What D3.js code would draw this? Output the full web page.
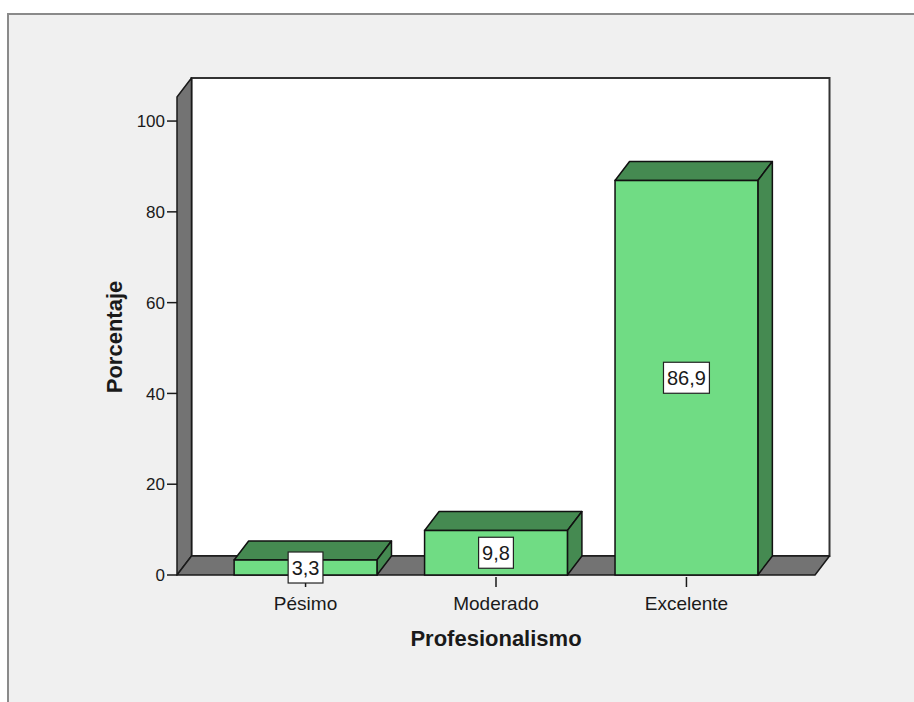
<!DOCTYPE html>
<html>
<head>
<meta charset="utf-8">
<script src="https://cdn.jsdelivr.net/npm/d3@7"></script>
<style>
  html, body { margin: 0; padding: 0; background: #ffffff; }
  svg { display: block; }
  text { font-family: "Liberation Sans", Arial, sans-serif; fill: #1a1a1a; }
</style>
</head>
<body>
<svg id="chart" width="914" height="702"></svg>
<script>
// ---- data ----
const categories = ["Pésimo", "Moderado", "Excelente"];
const values = [3.3, 9.8, 86.9];
const valueLabels = ["3,3", "9,8", "86,9"];
const yTicks = [0, 20, 40, 60, 80, 100];
const yTickLabels = ["0", "20", "40", "60", "80", "100"];
const xTitle = "Profesionalismo";
const yTitle = "Porcentaje";
const yMax = 105.3;

// ---- layout ----
const svg = d3.select("#chart");
const frontLeft = 177, frontRight = 815, floorY = 575, topY = 97;
const dx = 14.5, dy = -19;

const x = d3.scaleBand().domain(categories).range([frontLeft, frontRight])
  .paddingInner(0.25).paddingOuter(0.3);
const y = d3.scaleLinear().domain([0, yMax]).range([floorY, topY]);

// outer frame
svg.append("rect").attr("x", 8).attr("y", 14).attr("width", 920).attr("height", 700)
  .attr("fill", "#f0f0f0").attr("stroke", "#8a8a8a").attr("stroke-width", 2);

// back wall
svg.append("rect")
  .attr("x", frontLeft + dx).attr("y", y(yMax) + dy)
  .attr("width", frontRight - frontLeft).attr("height", y(0) - y(yMax))
  .attr("fill", "#ffffff").attr("stroke", "#333333").attr("stroke-width", 2);

// left wall
svg.append("polygon")
  .attr("points", [[frontLeft, y(yMax)], [frontLeft + dx, y(yMax) + dy], [frontLeft + dx, y(0) + dy], [frontLeft, y(0)]].map(p => p.join(",")).join(" "))
  .attr("fill", "#737373").attr("stroke", "#1a1a1a").attr("stroke-width", 1.5).attr("stroke-linejoin", "round");

// floor
svg.append("polygon")
  .attr("points", [[frontLeft, y(0)], [frontLeft + dx, y(0) + dy], [frontRight + dx, y(0) + dy], [frontRight, y(0)]].map(p => p.join(",")).join(" "))
  .attr("fill", "#737373").attr("stroke", "#1a1a1a").attr("stroke-width", 1.5).attr("stroke-linejoin", "round");

// y axis ticks
const yAxis = svg.append("g");
yTicks.forEach((t, i) => {
  yAxis.append("line").attr("x1", frontLeft - 10).attr("x2", frontLeft)
    .attr("y1", y(t)).attr("y2", y(t)).attr("stroke", "#1a1a1a").attr("stroke-width", 1.5);
  yAxis.append("text").attr("x", frontLeft - 12).attr("y", y(t)).attr("dy", "0.36em")
    .attr("text-anchor", "end").attr("font-size", 17).text(yTickLabels[i]);
});

// x axis ticks and labels
const xAxis = svg.append("g");
categories.forEach(c => {
  const cx = x(c) + x.bandwidth() / 2;
  xAxis.append("line").attr("x1", cx).attr("x2", cx).attr("y1", floorY + 2).attr("y2", floorY + 12)
    .attr("stroke", "#1a1a1a").attr("stroke-width", 1.5);
  xAxis.append("text").attr("x", cx).attr("y", 610).attr("text-anchor", "middle")
    .attr("font-size", 19).text(c);
});

// bars
const frontColor = "#70dc84", darkColor = "#458a51";
const bars = svg.append("g");
categories.forEach((c, i) => {
  const x0 = x(c), x1 = x(c) + x.bandwidth();
  const yv = y(values[i]), y0 = y(0);
  const g = bars.append("g");
  g.append("polygon")
    .attr("points", [[x0, yv], [x0 + dx, yv + dy], [x1 + dx, yv + dy], [x1, yv]].map(p => p.join(",")).join(" "))
    .attr("fill", darkColor).attr("stroke", "#111").attr("stroke-width", 1.5).attr("stroke-linejoin", "round");
  g.append("polygon")
    .attr("points", [[x1, yv], [x1 + dx, yv + dy], [x1 + dx, y0 + dy], [x1, y0]].map(p => p.join(",")).join(" "))
    .attr("fill", darkColor).attr("stroke", "#111").attr("stroke-width", 1.5).attr("stroke-linejoin", "round");
  g.append("rect").attr("x", x0).attr("y", yv).attr("width", x1 - x0).attr("height", y0 - yv)
    .attr("fill", frontColor).attr("stroke", "#111").attr("stroke-width", 1.5);
});

// value labels
categories.forEach((c, i) => {
  const cx = x(c) + x.bandwidth() / 2;
  const cy = (y(values[i]) + y(0)) / 2;
  const g = svg.append("g");
  const r = g.append("rect").attr("fill", "#ffffff").attr("stroke", "#222").attr("stroke-width", 1.2);
  const t = g.append("text").attr("x", cx).attr("y", cy).attr("dy", "0.36em")
    .attr("text-anchor", "middle").attr("font-size", 20).text(valueLabels[i]);
  const bb = t.node().getBBox();
  const w = bb.width + 7, h = 31;
  r.attr("x", cx - w / 2).attr("y", cy - h / 2).attr("width", w).attr("height", h);
});

// axis titles
svg.append("text").attr("x", 496).attr("y", 646).attr("text-anchor", "middle")
  .attr("font-size", 22).attr("font-weight", "bold").text(xTitle);
svg.append("text").attr("transform", "translate(122,337) rotate(-90)").attr("text-anchor", "middle")
  .attr("font-size", 22).attr("font-weight", "bold").text(yTitle);
</script>
</body>
</html>
